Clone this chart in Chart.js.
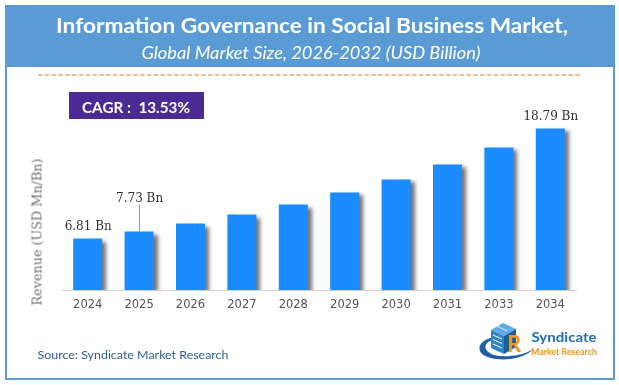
<!DOCTYPE html>
<html><head><meta charset="utf-8">
<script src="https://cdn.jsdelivr.net/npm/chart.js@4.4.0/dist/chart.umd.min.js"></script>
<style>
html,body{margin:0;padding:0;background:#fff;}
body{width:619px;height:385px;position:relative;overflow:hidden;font-family:"Lato","Open Sans",sans-serif;}
#frame{position:absolute;left:5px;top:5px;width:610px;height:375px;box-sizing:border-box;border:2px solid #5B9BD5;}
#header{position:absolute;left:5px;top:5px;width:610px;height:62px;background:#5B9BD5;}
#cagr{position:absolute;left:69px;top:92px;width:135px;height:27px;background:#4B2A93;}
.t{position:absolute;left:0;top:0;white-space:nowrap;line-height:1;}
#wrap{position:absolute;left:0;top:0;width:619px;height:385px;}
#deco{position:absolute;left:0;top:0;}
</style></head>
<body>
<div id="frame"></div>
<div id="header"></div>
<svg id="deco" width="619" height="385">
  <line x1="38" y1="75" x2="580" y2="75" stroke="#F4A467" stroke-width="1.5" stroke-dasharray="4.5 2.3"/>
  <!-- logo -->
  <path d="M495 337 C476 340 474 354 491 358 C507 362 527 357 533 349 C525 355 507 358 494 355 C481 351 484 341 495 339.5 Z" fill="#1F5FA8"/>
  <path d="M491 330 L503 323 L516 329 L504 336 Z" fill="#5DADE2"/>
  <path d="M491 330 L504 336 L504 354 L491 348 Z" fill="#2E86C8"/>
  <path d="M504 336 L516 329 L516 347 L504 354 Z" fill="#1B5E9E"/>
  <line x1="493" y1="335" x2="502" y2="339" stroke="#fff" stroke-width="1"/>
  <line x1="493" y1="339.5" x2="502" y2="343.5" stroke="#fff" stroke-width="1"/>
  <line x1="493" y1="344" x2="502" y2="348" stroke="#fff" stroke-width="1"/>
  <line x1="496" y1="325.5" x2="507" y2="331" stroke="#fff" stroke-width="0.8"/>
  <text x="507" y="352" font-family="Lato" font-weight="bold" font-size="22" fill="#F7941D">R</text>
</svg>
<div id="cagr"></div>
<div id="wrap"><canvas id="c" width="619" height="385"></canvas></div>
<span class="t" id="title" style="font-weight:bold;font-size:21px;color:#fff;">Information Governance in Social Business Market,</span>
<span class="t" id="subtitle" style="font-style:italic;font-size:17px;color:#fff;">Global Market Size, 2026-2032 (USD Billion)</span>
<span class="t" id="cagrtxt" style="font-weight:bold;font-size:16px;color:#fff;">CAGR :&nbsp; 13.53%</span>
<span class="t" id="ytitle" style="font-family:'DejaVu Serif',serif;font-size:13px;color:#707070;">Revenue (USD Mn/Bn)</span>
<span class="t" id="source" style="font-size:12px;color:#2F5D96;">Source: Syndicate Market Research</span>
<span class="t" id="logo1" style="font-weight:bold;font-size:13px;color:#1F6DB5;">Syndicate</span>
<span class="t" id="logo2" style="font-weight:bold;font-size:9px;color:#F7941D;">Market Research</span>
<script>
// ---- data ----
const years = ['2024','2025','2026','2027','2028','2029','2030','2031','2033','2034'];
const revenue = [5.98, 6.79, 7.72, 8.77, 9.94, 11.34, 12.85, 14.60, 16.58, 18.79];
const labelIndex = [0, 1, 9];
const labelText = ['6.81 Bn', '7.73 Bn', '18.79 Bn'];

function place(id, cx, cy, w, rot){
  const el = document.getElementById(id);
  const r = el.getBoundingClientRect();
  const s = w / r.width;
  el.style.left = cx + 'px';
  el.style.top = cy + 'px';
  el.style.transform = 'translate(-50%,-50%) rotate(' + (rot||0) + 'deg) scaleX(' + s + ')';
}
place('title', 311.8, 23.5, 512);
place('subtitle', 310.5, 52, 339);
place('cagrtxt', 136, 106.5, 108);
place('ytitle', 37, 231.5, 147, -90);
place('source', 132.5, 355, 191);
place('logo1', 563.5, 337, 65);
place('logo2', 564, 350.5, 66);

const shadowPlugin = {
  id: 'barShadow',
  beforeDatasetsDraw(chart){
    const ctx = chart.ctx; ctx.save();
    ctx.shadowColor = 'rgba(0,0,0,0.55)';
    ctx.shadowOffsetX = 4; ctx.shadowOffsetY = 3; ctx.shadowBlur = 4;
  },
  afterDatasetsDraw(chart){ chart.ctx.restore(); }
};
const labelPlugin = {
  id: 'vlabels',
  afterDraw(chart, args, opts){
    const ctx = chart.ctx; const meta = chart.getDatasetMeta(0);
    ctx.save();
    ctx.font = '12px "DejaVu Serif"';
    ctx.fillStyle = '#333'; ctx.textAlign = 'center'; ctx.textBaseline = 'middle';
    labelIndex.forEach((idx, k) => {
      const bar = meta.data[idx];
      const raise = opts.raised[idx] || 0;
      const y = bar.y - opts.gap - raise;
      ctx.fillText(labelText[k], bar.x + 0.5, y);
      if (raise) {
        ctx.strokeStyle = '#999'; ctx.lineWidth = 1;
        ctx.beginPath(); ctx.moveTo(Math.round(bar.x)+0.5, y + 6); ctx.lineTo(Math.round(bar.x)+0.5, bar.y); ctx.stroke();
      }
    });
    ctx.restore();
  }
};

new Chart(document.getElementById('c'), {
  type: 'bar',
  data: { labels: years, datasets: [{ data: revenue, backgroundColor: '#1A8CFF', borderWidth: 0,
    categoryPercentage: 1, barPercentage: 0.565 }] },
  options: {
    responsive: false, animation: false, devicePixelRatio: 1,
    layout: { padding: { left: 62, right: 43, top: 118, bottom: 65 } },
    plugins: { legend: { display: false }, tooltip: { enabled: false },
      vlabels: { gap: 12, raised: { 1: 21 } } },
    scales: {
      x: { grid: { display: false, drawTicks: false },
           border: { display: true, color: '#D0D0D0', width: 1 },
           ticks: { color: '#555', padding: 8, font: { family: 'DejaVu Sans', size: 11.5 } },
           afterFit(s){ s.height = 30; } },
      y: { display: false, min: 0, max: 20 }
    }
  },
  plugins: [shadowPlugin, labelPlugin]
});
</script>
</body></html>
